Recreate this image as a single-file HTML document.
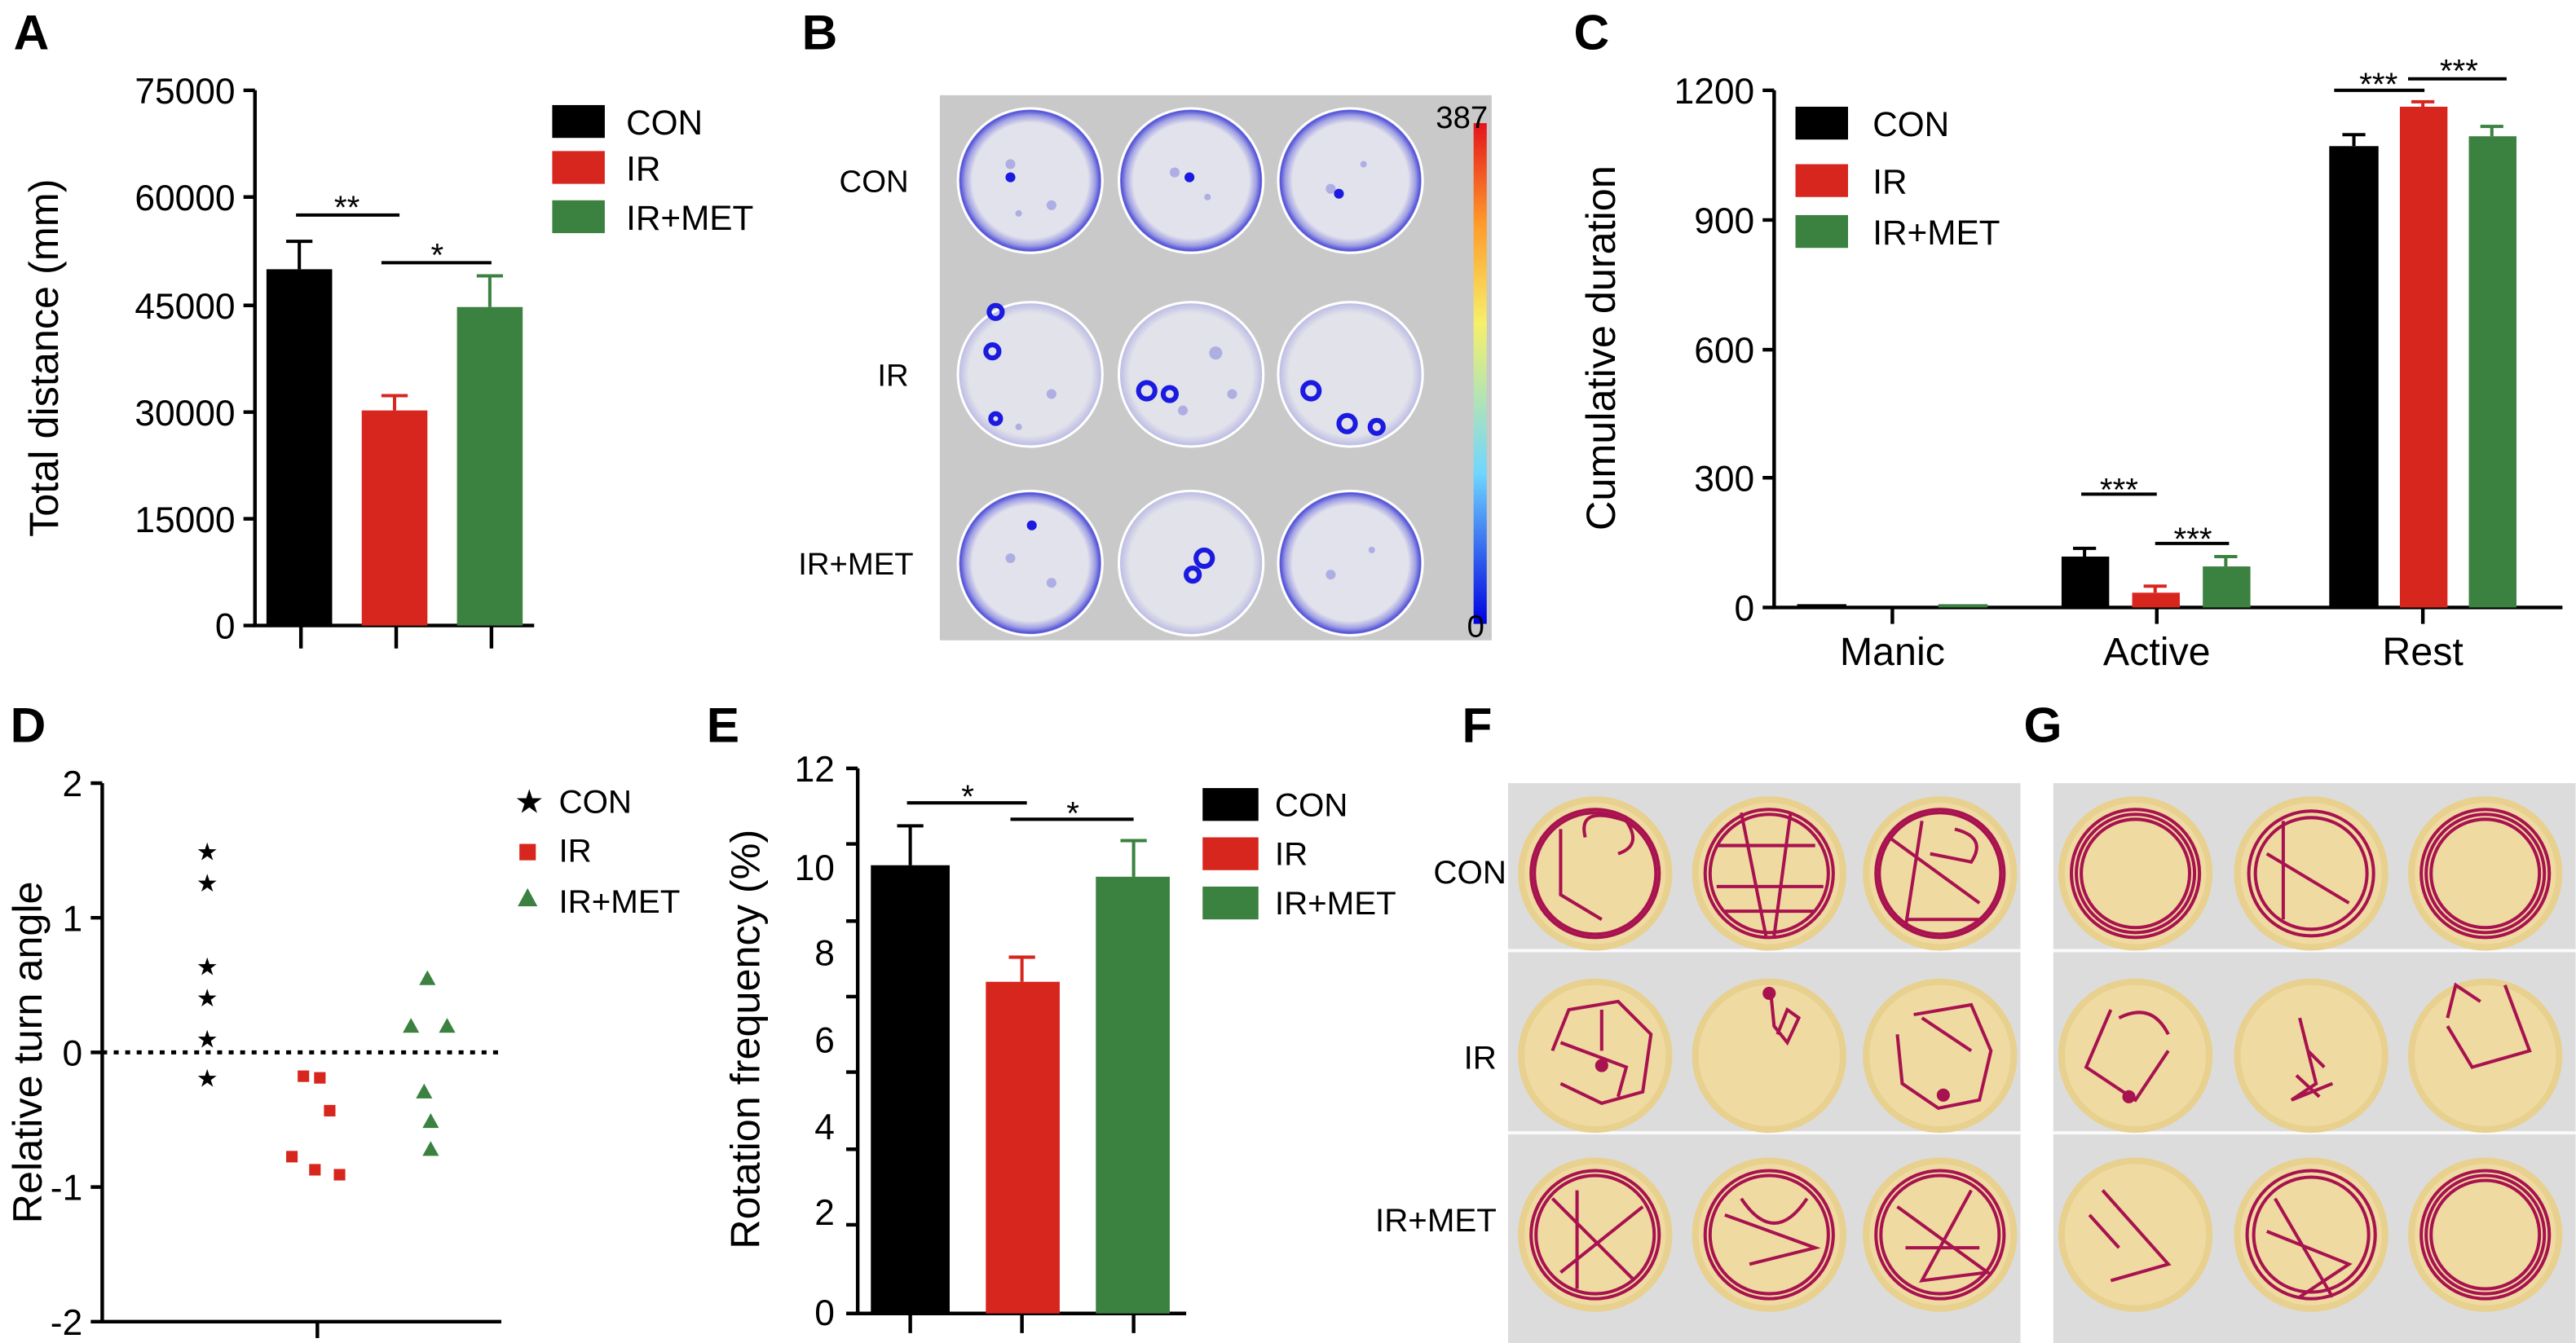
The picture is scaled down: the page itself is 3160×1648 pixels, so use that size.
<!DOCTYPE html>
<html><head><meta charset="utf-8"><style>
html,body{margin:0;padding:0;background:#fff}
svg{display:block}
text{font-family:"Liberation Sans",Arial,sans-serif}
</style></head><body>
<svg width="3160" height="1648" viewBox="0 0 1568 818" xmlns="http://www.w3.org/2000/svg">
<rect width="1568" height="818" fill="#fff"/>
<g font-weight="bold" font-size="30" fill="#000">
<text x="8" y="30">A</text><text x="488" y="30">B</text><text x="958" y="30">C</text>
<text x="6" y="452">D</text><text x="430" y="452">E</text><text x="890" y="452">F</text><text x="1232" y="452">G</text>
</g>

<!-- Panel A -->
<g stroke="#000" stroke-width="2.2" fill="none">
<path d="M155 55V381H325"/>
<path d="M148 55H155M148 120H155M148 186H155M148 251H155M148 316H155M148 381H155"/>
<path d="M183 381V395M241 381V395M299 381V395"/>
</g>
<g font-size="22" text-anchor="end"><text x="143" y="63">75000</text><text x="143" y="128">60000</text><text x="143" y="194">45000</text><text x="143" y="259">30000</text><text x="143" y="324">15000</text><text x="143" y="389">0</text></g>
<text transform="translate(35,218) rotate(-90)" font-size="25" text-anchor="middle">Total distance (mm)</text>
<rect x="162" y="164" width="40" height="217" fill="#000"/>
<rect x="220" y="250" width="40" height="131" fill="#d7261e"/>
<rect x="278" y="187" width="40" height="194" fill="#3b8140"/>
<g stroke="#000" stroke-width="2" fill="none">
<path d="M182 164V147M174 147H190"/>
<path d="M240 250V241M232 241H248" stroke="#d7261e"/>
<path d="M298 187V168M290 168H306" stroke="#3b8140"/>
<path d="M180 131H243M232 160H299"/>
</g>
<text x="211" y="133" font-size="20" text-anchor="middle">**</text>
<text x="266" y="162" font-size="20" text-anchor="middle">*</text>
<rect x="336" y="64" width="32" height="20" fill="#000"/><rect x="336" y="92" width="32" height="20" fill="#d7261e"/><rect x="336" y="122" width="32" height="20" fill="#3b8140"/>
<g font-size="21"><text x="381" y="82">CON</text><text x="381" y="110">IR</text><text x="381" y="140">IR+MET</text></g>

<!-- Panel B -->
<rect x="572" y="58" width="336" height="332" fill="#c9c9c9"/>
<defs><linearGradient id="cb" x1="0" y1="1" x2="0" y2="0">
<stop offset="0" stop-color="#0000e0"/><stop offset="0.3" stop-color="#6fd6ff"/><stop offset="0.6" stop-color="#f6f06a"/><stop offset="0.8" stop-color="#ff9a2a"/><stop offset="1" stop-color="#e4141c"/></linearGradient>
<radialGradient id="ring"><stop offset="0.8" stop-color="#e2e2ec"/><stop offset="0.9" stop-color="#a0a0e4"/><stop offset="0.97" stop-color="#5050d8"/><stop offset="1" stop-color="#e0e0e0"/></radialGradient>
<radialGradient id="lite"><stop offset="0.85" stop-color="#e2e2ea"/><stop offset="1" stop-color="#b8b8e4"/></radialGradient></defs>
<rect x="897" y="75" width="8" height="305" fill="url(#cb)"/>
<text x="874" y="78" font-size="19">387</text><text x="893" y="388" font-size="19">0</text>
<g stroke="#fff" stroke-width="1.5">
<circle cx="627" cy="110" r="44" fill="url(#ring)"/><circle cx="725" cy="110" r="44" fill="url(#ring)"/><circle cx="822" cy="110" r="44" fill="url(#ring)"/>
<circle cx="627" cy="228" r="44" fill="url(#lite)"/><circle cx="725" cy="228" r="44" fill="url(#lite)"/><circle cx="822" cy="228" r="44" fill="url(#lite)"/>
<circle cx="627" cy="343" r="44" fill="url(#ring)"/><circle cx="725" cy="343" r="44" fill="url(#lite)"/><circle cx="822" cy="343" r="44" fill="url(#ring)"/>
</g>
<g fill="#8c8ce0" opacity="0.6">
<circle cx="615" cy="100" r="3"/><circle cx="640" cy="125" r="3"/><circle cx="620" cy="130" r="2"/><circle cx="715" cy="105" r="3"/><circle cx="735" cy="120" r="2"/><circle cx="810" cy="115" r="3"/><circle cx="830" cy="100" r="2"/>
<circle cx="640" cy="240" r="3"/><circle cx="620" cy="260" r="2"/><circle cx="740" cy="215" r="4"/><circle cx="720" cy="250" r="3"/><circle cx="750" cy="240" r="3"/>
<circle cx="615" cy="340" r="3"/><circle cx="640" cy="355" r="3"/><circle cx="810" cy="350" r="3"/><circle cx="835" cy="335" r="2"/>
</g>
<g fill="#1a1ae0"><circle cx="615" cy="108" r="3"/><circle cx="724" cy="108" r="3"/><circle cx="815" cy="118" r="3"/><circle cx="628" cy="320" r="3"/></g>
<g fill="none" stroke="#1a1ae0" stroke-width="3">
<circle cx="606" cy="190" r="4"/><circle cx="604" cy="214" r="4"/><circle cx="606" cy="255" r="3"/>
<circle cx="698" cy="238" r="5"/><circle cx="712" cy="240" r="4"/><circle cx="798" cy="238" r="5"/><circle cx="820" cy="258" r="5"/><circle cx="838" cy="260" r="4"/>
<circle cx="733" cy="340" r="5"/><circle cx="726" cy="350" r="4"/>
</g>
<g font-size="19" text-anchor="end"><text x="553" y="117">CON</text><text x="553" y="235">IR</text><text x="556" y="350">IR+MET</text></g>

<!-- Panel C -->
<g stroke="#000" stroke-width="2.2" fill="none">
<path d="M1080 55V370H1560"/>
<path d="M1073 55H1080M1073 134H1080M1073 213H1080M1073 291H1080M1073 370H1080"/>
<path d="M1152 370V380M1313 370V380M1475 370V380"/>
</g>
<g font-size="22" text-anchor="end"><text x="1068" y="63">1200</text><text x="1068" y="142">900</text><text x="1068" y="221">600</text><text x="1068" y="299">300</text><text x="1068" y="378">0</text></g>
<text transform="translate(983,212) rotate(-90)" font-size="25" text-anchor="middle">Cumulative duration</text>
<g font-size="24" text-anchor="middle"><text x="1152" y="405">Manic</text><text x="1313" y="405">Active</text><text x="1475" y="405">Rest</text></g>
<rect x="1094" y="368" width="30" height="2" fill="#000"/><rect x="1180" y="368" width="30" height="2" fill="#3b8140"/>
<rect x="1255" y="339" width="29" height="31" fill="#000"/><rect x="1298" y="361" width="29" height="9" fill="#d7261e"/><rect x="1341" y="345" width="29" height="25" fill="#3b8140"/>
<rect x="1418" y="89" width="30" height="281" fill="#000"/><rect x="1461" y="65" width="29" height="305" fill="#d7261e"/><rect x="1503" y="83" width="29" height="287" fill="#3b8140"/>
<g stroke-width="2" fill="none">
<path d="M1269 339V334M1262 334H1276" stroke="#000"/><path d="M1312 361V357M1305 357H1319" stroke="#d7261e"/><path d="M1355 345V339M1348 339H1362" stroke="#3b8140"/>
<path d="M1433 89V82M1426 82H1440" stroke="#000"/><path d="M1475 65V62M1468 62H1482" stroke="#d7261e"/><path d="M1517 83V77M1510 77H1524" stroke="#3b8140"/>
<path d="M1267 301H1313M1312 331H1357M1421 55H1476M1466 48H1526" stroke="#000"/>
</g>
<g font-size="20" text-anchor="middle"><text x="1290" y="305">***</text><text x="1335" y="335">***</text><text x="1448" y="58">***</text><text x="1497" y="50">***</text></g>
<rect x="1093" y="65" width="32" height="20" fill="#000"/><rect x="1093" y="100" width="32" height="20" fill="#d7261e"/><rect x="1093" y="131" width="32" height="20" fill="#3b8140"/>
<g font-size="21"><text x="1140" y="83">CON</text><text x="1140" y="118">IR</text><text x="1140" y="149">IR+MET</text></g>

<!-- Panel D -->
<g stroke="#000" stroke-width="2.2" fill="none">
<path d="M62 477V805H305"/>
<path d="M55 477H62M55 559H62M55 641H62M55 723H62M55 805H62"/>
<path d="M193 805V815"/>
</g>
<path d="M62 641H305" stroke="#000" stroke-width="2.5" stroke-dasharray="3,4"/>
<g font-size="22" text-anchor="end"><text x="50" y="485">2</text><text x="50" y="567">1</text><text x="50" y="649">0</text><text x="50" y="731">-1</text><text x="50" y="813">-2</text></g>
<text transform="translate(25,641) rotate(-90)" font-size="25" text-anchor="middle">Relative turn angle</text>
<g font-size="15" text-anchor="middle"><text x="126" y="524">★</text><text x="126" y="543">★</text><text x="126" y="594">★</text><text x="126" y="613">★</text><text x="126" y="638">★</text><text x="126" y="662">★</text></g>
<g fill="#d7261e"><rect x="181" y="652" width="7" height="7"/><rect x="191" y="653" width="7" height="7"/><rect x="197" y="673" width="7" height="7"/><rect x="174" y="701" width="7" height="7"/><rect x="188" y="709" width="7" height="7"/><rect x="203" y="712" width="7" height="7"/></g>
<g fill="#3b8140"><path d="M260 591l-5 9h10z"/><path d="M250 620l-5 9h10z"/><path d="M272 620l-5 9h10z"/><path d="M258 660l-5 9h10z"/><path d="M262 678l-5 9h10z"/><path d="M262 695l-5 9h10z"/></g>
<text x="313" y="495" font-size="20">★</text><rect x="316" y="514" width="10" height="10" fill="#d7261e"/><path d="M321 541l-6 11h12z" fill="#3b8140"/>
<g font-size="20"><text x="340" y="495">CON</text><text x="340" y="525">IR</text><text x="340" y="556">IR+MET</text></g>

<!-- Panel E -->
<g stroke="#000" stroke-width="2.2" fill="none">
<path d="M522 468V800H722"/>
<path d="M515 468H522M515 514H522M515 561H522M515 607H522M515 653H522M515 700H522M515 746H522M515 800H522"/>
<path d="M554 800V812M622 800V812M690 800V812"/>
</g>
<g font-size="22" text-anchor="end"><text x="508" y="476">12</text><text x="508" y="536">10</text><text x="508" y="588">8</text><text x="508" y="641">6</text><text x="508" y="694">4</text><text x="508" y="746">2</text><text x="508" y="807">0</text></g>
<text transform="translate(462,633) rotate(-90)" font-size="25" text-anchor="middle">Rotation frequency (%)</text>
<rect x="530" y="527" width="48" height="273" fill="#000"/><rect x="600" y="598" width="45" height="202" fill="#d7261e"/><rect x="667" y="534" width="45" height="266" fill="#3b8140"/>
<g stroke-width="2" fill="none">
<path d="M554 527V503M546 503H562" stroke="#000"/><path d="M622 598V583M614 583H630" stroke="#d7261e"/><path d="M690 534V512M682 512H698" stroke="#3b8140"/>
<path d="M552 489H625M615 499H690" stroke="#000"/>
</g>
<text x="589" y="492" font-size="20" text-anchor="middle">*</text><text x="653" y="502" font-size="20" text-anchor="middle">*</text>
<rect x="732" y="480" width="34" height="20" fill="#000"/><rect x="732" y="510" width="34" height="20" fill="#d7261e"/><rect x="732" y="540" width="34" height="20" fill="#3b8140"/>
<g font-size="20"><text x="776" y="497">CON</text><text x="776" y="527">IR</text><text x="776" y="557">IR+MET</text></g>

<!-- Panel F -->
<rect x="918" y="477" width="312" height="341" fill="#dcdcdc"/>
<path d="M918 579H1230M918 690H1230" stroke="#fafafa" stroke-width="2"/>
<g fill="#efdaa2" stroke="#e8d08f" stroke-width="4">
<circle cx="971" cy="532" r="45"/><circle cx="1077" cy="532" r="45"/><circle cx="1181" cy="532" r="45"/>
<circle cx="971" cy="643" r="45"/><circle cx="1077" cy="643" r="45"/><circle cx="1181" cy="643" r="45"/>
<circle cx="971" cy="752" r="45"/><circle cx="1077" cy="752" r="45"/><circle cx="1181" cy="752" r="45"/>
</g>
<g fill="none" stroke="#a8124f" stroke-width="2">
<circle cx="971" cy="532" r="39"/><circle cx="971" cy="532" r="37"/><path d="M950 505V545L975 560M965 510Q960 490 990 500Q1000 515 985 520"/>
<circle cx="1077" cy="532" r="39"/><circle cx="1077" cy="532" r="36"/><path d="M1045 515H1105M1045 540H1110M1060 495L1075 570M1090 495L1080 570M1050 555H1105"/>
<circle cx="1181" cy="532" r="39"/><circle cx="1181" cy="532" r="37"/><path d="M1150 510L1205 550M1170 500L1160 565M1190 505Q1210 510 1200 525L1175 520M1160 560H1205"/>
<path d="M945 640L955 615L985 610L1005 630L1000 665L975 672L950 660M950 635L990 650L985 668M975 615V640"/><circle cx="975" cy="649" r="3" fill="#a8124f"/>
<path d="M1078 605L1080 625L1088 635L1095 620L1088 615L1082 630"/><circle cx="1077" cy="605" r="3" fill="#a8124f"/>
<path d="M1165 618L1200 612L1212 640L1205 670L1180 675L1158 660L1155 630M1170 620L1200 640"/><circle cx="1183" cy="667" r="3" fill="#a8124f"/>
<circle cx="971" cy="752" r="39"/><circle cx="971" cy="752" r="36"/><path d="M945 730L995 780M950 775L1000 735M960 725V785"/>
<circle cx="1077" cy="752" r="39"/><circle cx="1077" cy="752" r="36"/><path d="M1050 740L1105 760L1065 770M1060 730Q1080 760 1100 730"/>
<circle cx="1181" cy="752" r="39"/><circle cx="1181" cy="752" r="36"/><path d="M1155 735L1210 775L1170 780L1200 725M1160 760H1205"/>
</g>
<g font-size="20" text-anchor="end"><text x="917" y="538">CON</text><text x="911" y="651">IR</text><text x="911" y="750">IR+MET</text></g>

<!-- Panel G -->
<rect x="1250" y="477" width="318" height="341" fill="#dcdcdc"/>
<path d="M1250 579H1568M1250 690H1568" stroke="#fafafa" stroke-width="2"/>
<g fill="#efdaa2" stroke="#e8d08f" stroke-width="4">
<circle cx="1300" cy="532" r="45"/><circle cx="1407" cy="532" r="45"/><circle cx="1513" cy="532" r="45"/>
<circle cx="1300" cy="643" r="45"/><circle cx="1407" cy="643" r="45"/><circle cx="1513" cy="643" r="45"/>
<circle cx="1300" cy="752" r="45"/><circle cx="1407" cy="752" r="45"/><circle cx="1513" cy="752" r="45"/>
</g>
<g fill="none" stroke="#a8124f" stroke-width="2">
<circle cx="1300" cy="532" r="39"/><circle cx="1300" cy="532" r="36"/><circle cx="1300" cy="532" r="33"/>
<circle cx="1407" cy="532" r="38"/><circle cx="1407" cy="532" r="34"/><path d="M1380 520L1430 550M1390 500V560"/>
<circle cx="1513" cy="532" r="39"/><circle cx="1513" cy="532" r="36"/><circle cx="1513" cy="532" r="33"/>
<path d="M1285 615L1270 650L1300 670L1320 640M1290 620Q1310 610 1320 630"/><circle cx="1296" cy="668" r="3" fill="#a8124f"/>
<path d="M1400 620L1410 660L1395 670L1420 660M1405 640L1415 650M1398 655L1412 668"/>
<path d="M1525 600L1540 640L1505 650L1490 625M1490 620L1495 600L1510 610"/>
<path d="M1280 725L1320 770L1285 780M1272 740L1290 760"/><circle cx="1407" cy="752" r="39"/><circle cx="1407" cy="752" r="35"/><path d="M1380 750L1430 770L1400 790M1385 730L1420 790"/>
<circle cx="1513" cy="752" r="39"/><circle cx="1513" cy="752" r="36"/><circle cx="1513" cy="752" r="33"/>
</g>
</svg>
</body></html>
